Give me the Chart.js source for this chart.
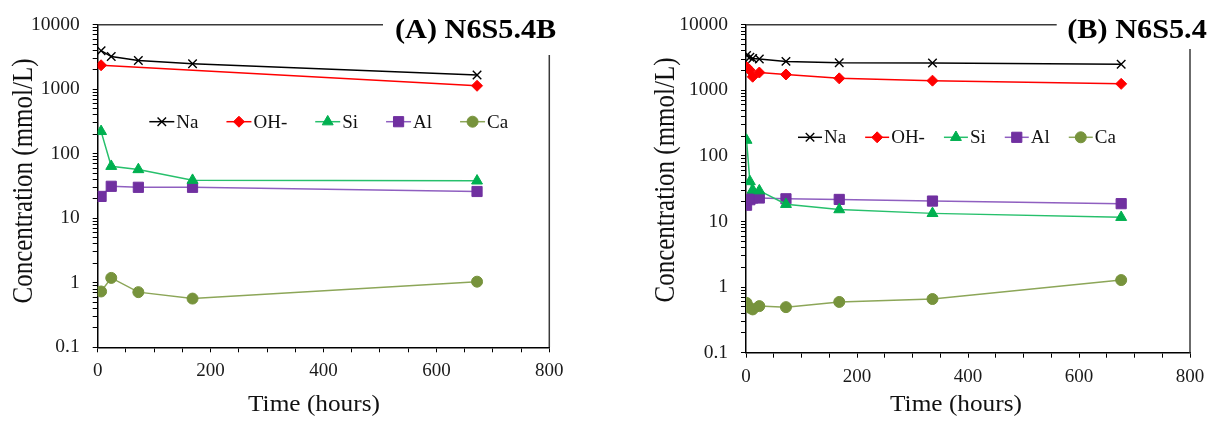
<!DOCTYPE html>
<html>
<head>
<meta charset="utf-8">
<script src="https://cdn.jsdelivr.net/npm/chart.js@4.4.1/dist/chart.umd.min.js"></script>
<style>
html,body{margin:0;padding:0;background:#fff;}
#wrap{position:relative;width:1216px;height:421px;overflow:hidden;background:#fff;}
.pane{position:absolute;top:0;height:421px;}
</style>
</head>
<body>
<div id="wrap">
  <div class="pane" style="left:0;width:600px"><canvas id="cA" width="600" height="421"></canvas></div>
  <div class="pane" style="left:600px;width:616px"><canvas id="cB" width="616" height="421"></canvas></div>
</div>
<script>
// ---------- data ----------
const seriesNames = ['Na', 'OH-', 'Si', 'Al', 'Ca'];

// Panel A: N6S5.4B
const hoursA    = [6, 24, 72, 168, 672];
const hoursA_OH = [6, 672];
const naA = [3960, 3210, 2790, 2480, 1656];
const ohA = [2350, 1130];
const siA = [222, 64, 57, 38.9, 38];
const alA = [21.8, 31.3, 30.2, 30.2, 26];
const caA = [0.733, 1.19, 0.716, 0.569, 1.04];

// Panel B: N6S5.4
const hoursB = [1, 7, 12, 24, 72, 168, 336, 676];
const naB = [3400, 3200, 3050, 3000, 2760, 2630, 2600, 2490];
const ohB = [2270, 2020, 1610, 1866, 1742, 1520, 1403, 1253];
const siB = [174, 40.7, 30.3, 29.5, 18.3, 15.2, 13.3, 11.6];
const alB = [17.7, 21.5, 22.8, 22.8, 22.2, 21.7, 20.5, 18.7];
const caB = [0.574, 0.484, 0.457, 0.513, 0.495, 0.594, 0.658, 1.28];

// tick labels
const xTickLabels = ['0', '200', '400', '600', '800'];
const yTickLabels = ['0.1', '1', '10', '100', '1000', '10000'];
const yDecades = [0.1, 1, 10, 100, 1000];

const panelTitles = ['(A) N6S5.4B', '(B) N6S5.4'];
const xTitle = 'Time (hours)';
const yTitle = 'Concentration (mmol/L)';

// ---------- styles ----------
const SERIF = '"Liberation Serif", "Times New Roman", serif';
const styles = [
  {label: 'Na',  line: '#000000', point: '#000000', style: 'crossRot', r: 6,   pbw: 1.4},
  {label: 'OH-', line: '#ff0000', point: '#ff0000', style: 'rectRot',  r: 5.5, pbw: 1},
  {label: 'Si',  line: '#27c06c', point: '#00b050', style: 'triangle', r: 6.3, pbw: 1},
  {label: 'Al',  line: '#8f5fc0', point: '#7030a0', style: 'rect',     r: 7.2, pbw: 1},
  {label: 'Ca',  line: '#8ca658', point: '#77933c', style: 'circle',   r: 5.5, pbw: 1}
];

function pts(xs, ys) { return xs.map((x, i) => ({x: x, y: ys[i]})); }

function makeDatasets(list) {
  return list.map((d, i) => {
    const s = styles[i];
    return {
      label: s.label,
      data: pts(d[0], d[1]),
      borderColor: s.line,
      backgroundColor: s.point,
      borderWidth: 1.5,
      pointStyle: s.style,
      pointRadius: s.r,
      pointHoverRadius: s.r,
      pointBackgroundColor: s.point,
      pointBorderColor: s.point,
      pointBorderWidth: s.pbw,
      tension: 0,
      fill: false
    };
  });
}

function buildLogTicks(scale) {
  const t = [];
  yDecades.forEach(d => {
    for (let k = 1; k <= 9; k++) t.push({value: +(d * k).toPrecision(6)});
  });
  t.push({value: 10000});
  scale.ticks = t;
}

function makeScales(o) {
  return {
    x: {
      type: 'linear', min: 0, max: 800,
      ticks: {
        stepSize: 50, autoSkip: false, maxRotation: 0, minRotation: 0,
        padding: o.xPad, color: '#1a1a1a',
        font: {family: SERIF, size: 19},
        callback: (v) => {
          const idx = xTickLabels.indexOf(String(v));
          return idx >= 0 ? xTickLabels[idx] : '';
        }
      },
      grid: {display: true, drawOnChartArea: false, drawTicks: true, tickLength: 5, color: '#000', lineWidth: 1},
      border: {display: true, color: '#000', width: 1.5},
      afterFit: (s) => { s.height = o.xAxisH; }
    },
    y: {
      type: 'logarithmic', min: 0.1, max: 10000,
      afterBuildTicks: buildLogTicks,
      ticks: {
        autoSkip: false, padding: 13, color: '#1a1a1a',
        font: {family: SERIF, size: 19.5},
        callback: (v) => {
          for (let i = 0; i < yDecades.length + 1; i++) {
            const d = i < yDecades.length ? yDecades[i] : 10000;
            if (Math.abs(v - d) < d * 1e-6) return yTickLabels[i];
          }
          return '';
        }
      },
      grid: {display: true, drawOnChartArea: false, drawTicks: true, tickLength: 5, color: '#000', lineWidth: 1},
      border: {display: true, color: '#000', width: 1.5},
      afterFit: (s) => { s.width = o.yAxisW; }
    }
  };
}

// decorations: partial frame, panel title, axis titles, in-plot legend
const decorPlugin = {
  id: 'decor',
  afterDraw(chart, args, o) {
    const ctx = chart.ctx, ca = chart.chartArea;
    ctx.save();
    // partial frame (top and right)
    ctx.strokeStyle = '#3a3a3a';
    ctx.lineWidth = 1.5;
    ctx.beginPath(); ctx.moveTo(ca.left, ca.top); ctx.lineTo(o.topEndX, ca.top); ctx.stroke();
    ctx.beginPath(); ctx.moveTo(ca.right, o.rightStartY); ctx.lineTo(ca.right, ca.bottom); ctx.stroke();

    // panel title
    ctx.fillStyle = '#000';
    ctx.textBaseline = 'alphabetic';
    ctx.textAlign = 'left';
    ctx.font = 'bold 27px ' + SERIF;
    ctx.save();
    ctx.translate(o.titleX, o.titleBase);
    ctx.scale(1.12, 1);
    ctx.fillText(o.title, 0, 0);
    ctx.restore();

    // x axis title
    ctx.font = '23px ' + SERIF;
    ctx.textAlign = 'center';
    ctx.textBaseline = 'middle';
    ctx.fillStyle = '#111';
    ctx.save();
    ctx.translate(o.xTitleX, o.xTitleY);
    ctx.scale(1.1, 1);
    ctx.fillText(xTitle, 0, 0);
    ctx.restore();

    // y axis title
    ctx.font = '25px ' + SERIF;
    ctx.save();
    ctx.translate(o.yTitleX, o.yTitleY);
    ctx.rotate(-Math.PI / 2);
    ctx.scale(1, 1.15);
    ctx.fillText(yTitle, 0, 0);
    ctx.restore();

    // legend
    let x = o.legX;
    const y = o.legY;
    ctx.font = '19px ' + SERIF;
    ctx.textAlign = 'left';
    ctx.textBaseline = 'middle';
    chart.data.datasets.forEach(ds => {
      ctx.strokeStyle = ds.borderColor;
      ctx.lineWidth = ds.borderWidth;
      ctx.beginPath(); ctx.moveTo(x, y); ctx.lineTo(x + o.legLine, y); ctx.stroke();
      ctx.fillStyle = ds.pointBackgroundColor;
      ctx.strokeStyle = ds.pointBorderColor;
      ctx.lineWidth = ds.pointBorderWidth;
      if (Chart.helpers && Chart.helpers.drawPoint) {
        Chart.helpers.drawPoint(ctx, {pointStyle: ds.pointStyle, rotation: 0, radius: ds.pointRadius, borderWidth: ds.pointBorderWidth}, x + o.legLine / 2, y);
      } else {
        ctx.beginPath(); ctx.arc(x + o.legLine / 2, y, ds.pointRadius, 0, Math.PI * 2); ctx.fill();
      }
      ctx.fillStyle = '#111';
      const tx = x + o.legLine + o.legTextGap;
      ctx.fillText(ds.label, tx, y + 1);
      x = tx + ctx.measureText(ds.label).width + o.legGap;
    });
    ctx.restore();
  }
};

function makeChart(id, datasets, o) {
  return new Chart(document.getElementById(id), {
    type: 'line',
    data: {datasets: datasets},
    options: {
      responsive: false,
      animation: false,
      devicePixelRatio: 1,
      events: [],
      layout: {padding: {left: 0, top: o.padTop, right: o.padRight, bottom: 0}},
      scales: makeScales(o),
      plugins: {
        legend: {display: false},
        tooltip: {enabled: false},
        title: {display: false},
        decor: o
      }
    },
    plugins: [decorPlugin]
  });
}

makeChart('cA', makeDatasets([
  [hoursA, naA], [hoursA_OH, ohA], [hoursA, siA], [hoursA, alA], [hoursA, caA]
]), {
  padTop: 16.7, padRight: 50.7, yAxisW: 97.7, xAxisH: 73.7, xPad: 7,
  topEndX: 383, rightStartY: 55,
  title: panelTitles[0], titleX: 395, titleBase: 37.5,
  xTitleX: 314, xTitleY: 405,
  yTitleX: 24.5, yTitleY: 181,
  legX: 149.3, legY: 121.7, legLine: 25, legTextGap: 2, legGap: 28
});

makeChart('cB', makeDatasets([
  [hoursB, naB], [hoursB, ohB], [hoursB, siB], [hoursB, alB], [hoursB, caB]
]), {
  padTop: 16.7, padRight: 26, yAxisW: 146, xAxisH: 68.3, xPad: 8,
  topEndX: 456.7, rightStartY: 49,
  title: panelTitles[1], titleX: 467.3, titleBase: 37.5,
  xTitleX: 356, xTitleY: 405,
  yTitleX: 66, yTitleY: 180,
  legX: 198, legY: 137.3, legLine: 24, legTextGap: 2, legGap: 19
});
</script>
</body>
</html>
